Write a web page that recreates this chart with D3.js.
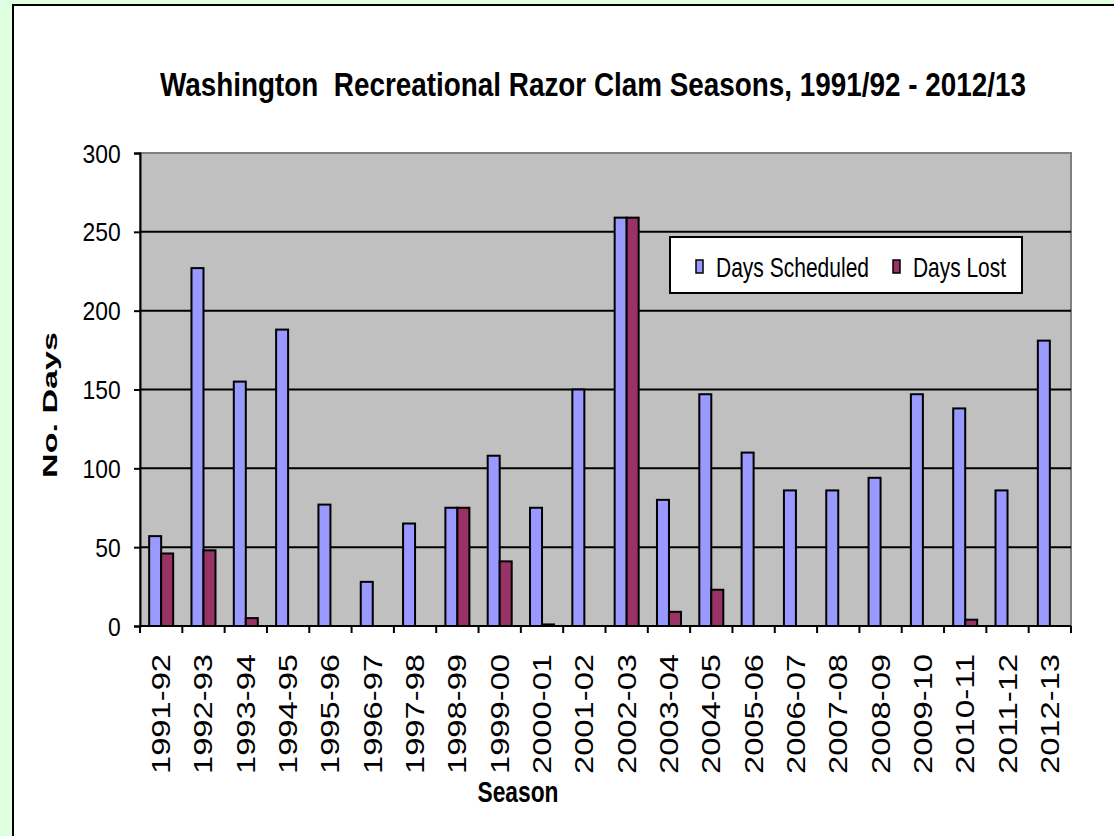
<!DOCTYPE html>
<html>
<head>
<meta charset="utf-8">
<script src="https://cdn.jsdelivr.net/npm/d3@7"></script>
<style>
    body { margin: 0; background: #e0ffe0; }
    svg { display: block; }
</style>
</head>
<body>
<div id="draw"></div>
<script>
// data
var seasons = ["1991-92", "1992-93", "1993-94", "1994-95", "1995-96", "1996-97", "1997-98",
    "1998-99", "1999-00", "2000-01", "2001-02", "2002-03", "2003-04", "2004-05", "2005-06",
    "2006-07", "2007-08", "2008-09", "2009-10", "2010-11", "2011-12", "2012-13"];
var daysScheduled = [57, 227, 155, 188, 77, 28, 65, 75, 108, 75, 150, 259, 80, 147, 110, 86, 86, 94, 147, 138, 86, 181];
var daysLost = [46, 48, 5, 0, 0, 0, 0, 75, 41, 1, 0, 259, 9, 23, 0, 0, 0, 0, 0, 4, 0, 0];
var seriesNames = ["Days Scheduled", "Days Lost"];
var seriesColors = ["#9999ff", "#993366"];
var yTicks = [0, 50, 100, 150, 200, 250, 300];

var W = 1114, H = 836;
var pLeft = 140, pRight = 1071, pTop = 153, pBottom = 626;

var svg = d3.select("#draw")
    .append("svg")
    .attr("width", W)
    .attr("height", H);

// white panel
svg.append("rect")
    .attr("x", 13).attr("y", 5)
    .attr("width", W + 10).attr("height", H + 10)
    .attr("fill", "white")
    .attr("stroke", "black")
    .attr("stroke-width", 2);

var x0 = d3.scaleBand().domain(seasons).range([pLeft, pRight]).paddingInner(0);
var x1 = d3.scaleBand().domain(seriesNames).range([0, x0.bandwidth()]).paddingInner(0).paddingOuter(0.763);
var y = d3.scaleLinear().domain([0, 300]).range([pBottom, pTop]);

// plot area
svg.append("rect")
    .attr("x", pLeft).attr("y", pTop)
    .attr("width", pRight - pLeft).attr("height", pBottom - pTop)
    .attr("fill", "#c0c0c0")
    .attr("stroke", "#808080")
    .attr("stroke-width", 2);

// gridlines
svg.selectAll("line.grid")
    .data(yTicks.filter(function(d) { return d > 0 && d < 300; }))
    .enter()
    .append("line")
    .attr("class", "grid")
    .attr("x1", pLeft).attr("x2", pRight)
    .attr("y1", function(d) { return y(d); })
    .attr("y2", function(d) { return y(d); })
    .attr("stroke", "black")
    .attr("stroke-width", 2);

// bars
var rows = seasons.map(function(s, i) {
    return { season: s, values: [daysScheduled[i], daysLost[i]] };
});
var groups = svg.selectAll("g.season")
    .data(rows)
    .enter()
    .append("g")
    .attr("class", "season")
    .attr("transform", function(d) { return "translate(" + x0(d.season) + ",0)"; });
groups.selectAll("rect")
    .data(function(d) {
        return d.values.map(function(v, k) { return { name: seriesNames[k], value: v, k: k }; })
            .filter(function(e) { return e.value > 0; });
    })
    .enter()
    .append("rect")
    .attr("x", function(d) { return x1(d.name); })
    .attr("y", function(d) { return y(d.value); })
    .attr("width", x1.bandwidth())
    .attr("height", function(d) { return pBottom - y(d.value); })
    .attr("fill", function(d) { return seriesColors[d.k]; })
    .attr("stroke", "black")
    .attr("stroke-width", 2);

// y axis
var yAxis = svg.append("g")
    .attr("transform", "translate(" + pLeft + ",0)")
    .call(d3.axisLeft(y).tickValues(yTicks).tickSize(6).tickPadding(16));
yAxis.select(".domain").attr("stroke-width", 2);
yAxis.selectAll(".tick line").attr("stroke-width", 2);
yAxis.selectAll(".tick text")
    .attr("font-family", "Liberation Sans, Arial, sans-serif")
    .attr("font-size", "26px")
    .attr("fill", "black")
    .attr("dy", "0.35em")
    .attr("transform", "scale(0.88,1)");

// x axis
var xTickPos = seasons.map(function(s) { return x0(s); }).concat([pRight]);
svg.append("line")
    .attr("x1", pLeft).attr("x2", pRight)
    .attr("y1", pBottom).attr("y2", pBottom)
    .attr("stroke", "black").attr("stroke-width", 2);
svg.selectAll("line.xtick")
    .data(xTickPos)
    .enter()
    .append("line")
    .attr("class", "xtick")
    .attr("x1", function(d) { return d; }).attr("x2", function(d) { return d; })
    .attr("y1", pBottom).attr("y2", pBottom + 7)
    .attr("stroke", "black").attr("stroke-width", 2);
svg.selectAll("text.xlab")
    .data(seasons)
    .enter()
    .append("text")
    .attr("class", "xlab")
    .attr("transform", function(d) {
        return "translate(" + (x0(d) + x0.bandwidth() / 2 + 9) + "," + (pBottom + 28) + ") rotate(-90)";
    })
    .attr("text-anchor", "end")
    .attr("font-family", "Liberation Sans, Arial, sans-serif")
    .attr("font-size", "26px")
    .attr("textLength", 120)
    .attr("lengthAdjust", "spacingAndGlyphs")
    .text(function(d) { return d; });

// title
svg.append("text")
    .attr("x", 593).attr("y", 96)
    .attr("text-anchor", "middle")
    .attr("font-family", "Liberation Sans, Arial, sans-serif")
    .attr("font-weight", "bold")
    .attr("font-size", "34px")
    .attr("textLength", 866)
    .attr("lengthAdjust", "spacingAndGlyphs")
    .style("white-space", "pre")
    .text("Washington  Recreational Razor Clam Seasons, 1991/92 - 2012/13");

// axis titles
svg.append("text")
    .attr("transform", "translate(57,405) rotate(-90)")
    .attr("text-anchor", "middle")
    .attr("font-family", "Liberation Sans, Arial, sans-serif")
    .attr("font-weight", "bold")
    .attr("font-size", "20px")
    .attr("textLength", 146)
    .attr("lengthAdjust", "spacingAndGlyphs")
    .text("No. Days");
svg.append("text")
    .attr("x", 518).attr("y", 802)
    .attr("text-anchor", "middle")
    .attr("font-family", "Liberation Sans, Arial, sans-serif")
    .attr("font-weight", "bold")
    .attr("font-size", "30px")
    .attr("textLength", 81)
    .attr("lengthAdjust", "spacingAndGlyphs")
    .text("Season");

// legend
var legend = svg.append("g");
legend.append("rect")
    .attr("x", 670).attr("y", 237)
    .attr("width", 352).attr("height", 56)
    .attr("fill", "white")
    .attr("stroke", "black")
    .attr("stroke-width", 2);
var legendX = [696, 893];
var legendLen = [153, 93];
seriesNames.forEach(function(name, k) {
    legend.append("rect")
        .attr("x", legendX[k]).attr("y", 260)
        .attr("width", 7).attr("height", 13)
        .attr("fill", seriesColors[k])
        .attr("stroke", "black")
        .attr("stroke-width", 1.5);
    legend.append("text")
        .attr("x", legendX[k] + 20).attr("y", 277)
        .attr("font-family", "Liberation Sans, Arial, sans-serif")
        .attr("font-size", "28px")
        .attr("textLength", legendLen[k])
        .attr("lengthAdjust", "spacingAndGlyphs")
        .text(name);
});
</script>
</body>
</html>
